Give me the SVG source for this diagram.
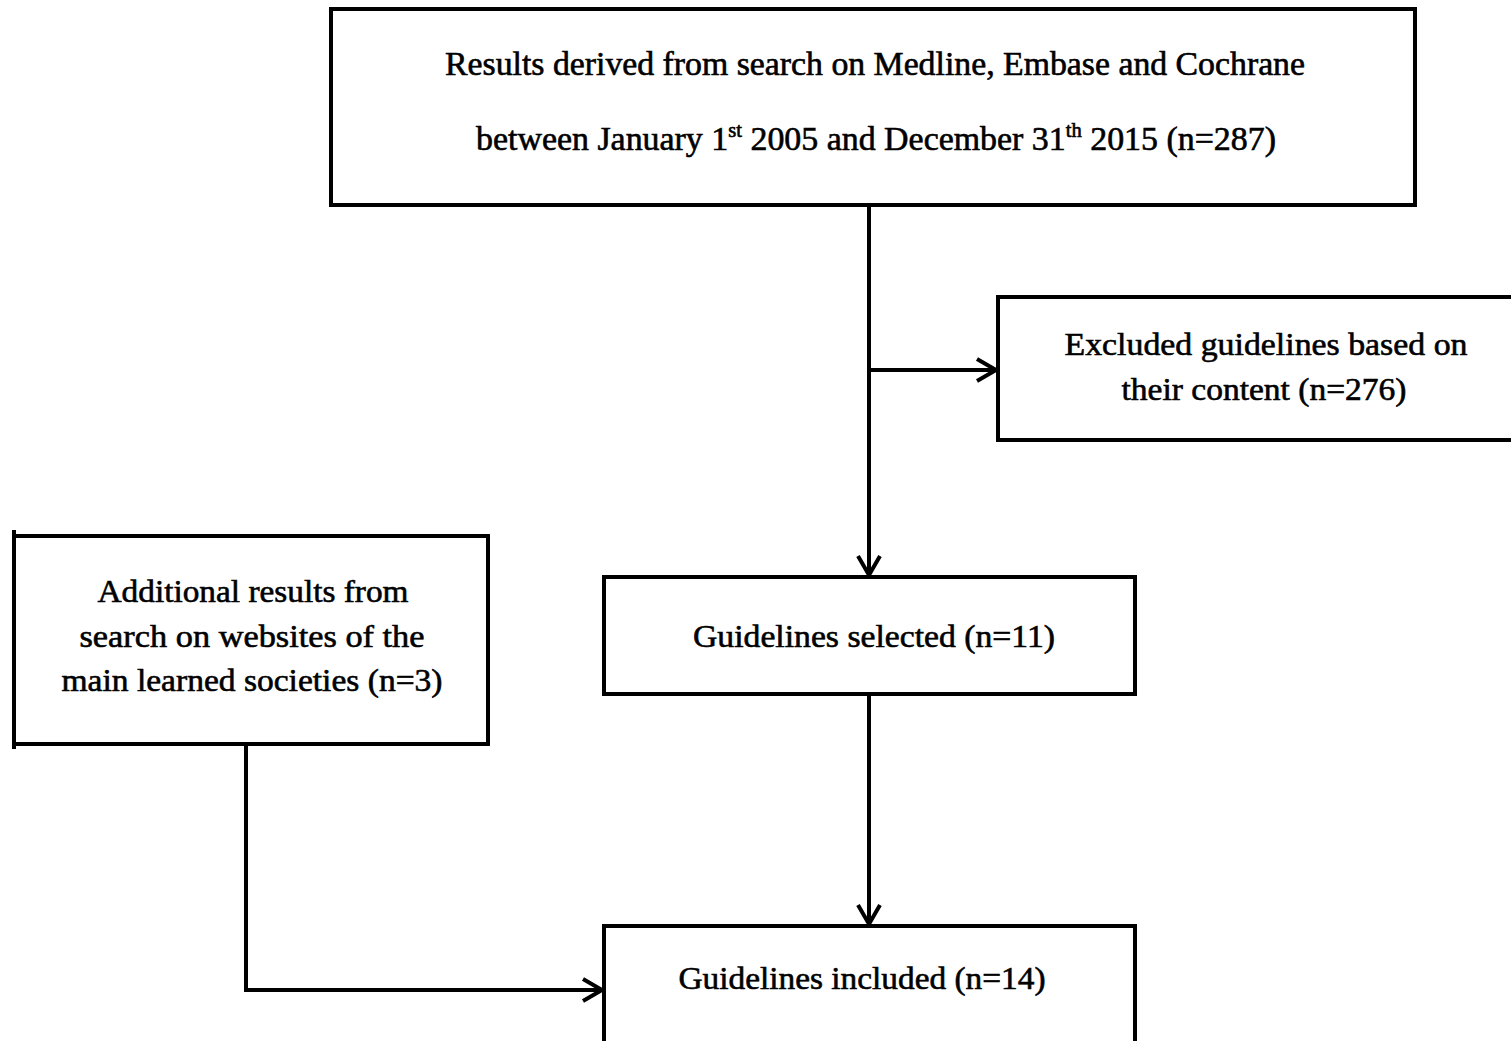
<svg xmlns="http://www.w3.org/2000/svg" width="1511" height="1041" viewBox="0 0 1511 1041">
<style>
.box{fill:#fff;stroke:#000;stroke-width:4}
.t{font-family:"Liberation Serif","Times New Roman",serif;font-size:32px;fill:#000;stroke:#000;stroke-width:0.6;text-anchor:middle}
.big{font-size:33px}
.sup{font-size:20px}
.c{fill:none;stroke:#000;stroke-width:4}
</style>
<defs>
<marker id="arr" viewBox="0 0 26 26" refX="22" refY="13" markerWidth="26" markerHeight="26" markerUnits="userSpaceOnUse" orient="auto">
<path d="M3,2 L22,13 L3,24" fill="none" stroke="#000" stroke-width="4"/>
</marker>
</defs>
<rect width="1511" height="1041" fill="#fff"/>
<g id="connectors">
<line class="c" x1="869" y1="205" x2="869" y2="575" marker-end="url(#arr)"/>
<line class="c" x1="869" y1="370" x2="996" y2="370" marker-end="url(#arr)"/>
<line class="c" x1="869" y1="694" x2="869" y2="924" marker-end="url(#arr)"/>
<polyline class="c" points="246,744 246,990 602,990" marker-end="url(#arr)"/>
</g>
<g id="search">
<rect class="box" x="331" y="9" width="1084" height="196"/>
<text class="t big" x="875" y="75" textLength="860" lengthAdjust="spacingAndGlyphs">Results derived from search on Medline, Embase and Cochrane</text>
<text class="t big" x="876" y="150" textLength="800" lengthAdjust="spacingAndGlyphs">between January 1<tspan class="sup" dy="-13">st</tspan><tspan dy="13"> 2005 and December 31</tspan><tspan class="sup" dy="-13">th</tspan><tspan dy="13"> 2015 (n=287)</tspan></text>
</g>
<g id="excluded">
<rect class="box" x="998" y="297" width="520" height="143"/>
<text class="t" x="1266" y="355" textLength="403" lengthAdjust="spacingAndGlyphs">Excluded guidelines  based on</text>
<text class="t" x="1264" y="400" textLength="285" lengthAdjust="spacingAndGlyphs">their content (n=276)</text>
</g>
<g id="additional">
<rect class="box" x="14" y="536" width="474" height="208"/>
<line class="c" x1="14" y1="530" x2="14" y2="749"/>
<text class="t" x="253" y="602" textLength="311" lengthAdjust="spacingAndGlyphs">Additional results from</text>
<text class="t" x="252" y="647" textLength="345" lengthAdjust="spacingAndGlyphs">search on websites of the</text>
<text class="t" x="252" y="691" textLength="381" lengthAdjust="spacingAndGlyphs">main learned societies (n=3)</text>
</g>
<g id="selected">
<rect class="box" x="604" y="577" width="531" height="117"/>
<text class="t" x="874" y="647" textLength="362" lengthAdjust="spacingAndGlyphs">Guidelines  selected (n=11)</text>
</g>
<g id="included">
<rect class="box" x="604" y="926" width="531" height="130"/>
<text class="t" x="862" y="989" textLength="367" lengthAdjust="spacingAndGlyphs">Guidelines  included (n=14)</text>
</g>
</svg>
